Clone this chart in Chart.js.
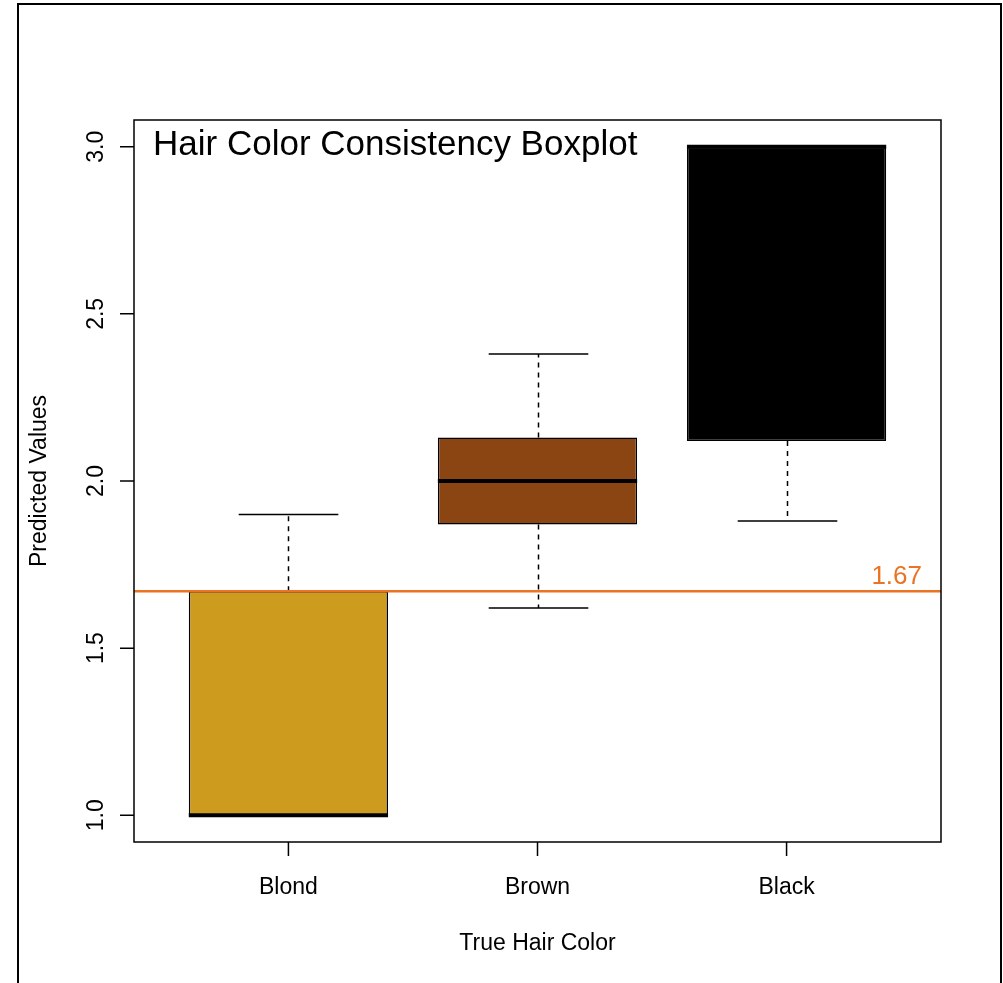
<!DOCTYPE html>
<html>
<head>
<meta charset="utf-8">
<script src="https://cdn.jsdelivr.net/npm/chart.js@4.4.1/dist/chart.umd.min.js"></script>
<style>
  html, body { margin: 0; padding: 0; background: #fff; }
  canvas { display: block; }
</style>
</head>
<body>
<canvas id="chart" width="1003" height="983"></canvas>
<script>
// ---- data ----
const categories = ['Blond', 'Brown', 'Black'];
const positions = [1, 2, 3];
const lowerWhisker = [1.00, 1.62, 1.88];
const q1 = [1.00, 1.87, 2.12];
const median = [1.00, 2.00, 3.00];
const q3 = [1.67, 2.13, 3.00];
const upperWhisker = [1.90, 2.38, 3.00];
const boxColors = ['#CD9B1D', '#8B4513', '#000000'];
const yTicks = [1.0, 1.5, 2.0, 2.5, 3.0];
const referenceValue = 1.67;
const referenceLabel = '1.67';
const referenceColor = '#EB7324';

const chartTitle = 'Hair Color Consistency Boxplot';
const xTitle = 'True Hair Color';
const yTitle = 'Predicted Values';

const FONT = '"Liberation Sans", Arial, Helvetica, sans-serif';

// boxes are floating bars from q1 to q3
const boxData = positions.map((p, i) => ({ x: p, y: [q1[i], q3[i]] }));

// ---- drawing helpers (whiskers, medians, axes, text) ----
const boxplotDecor = {
  id: 'boxplotDecor',
  beforeDraw(chart) {
    const ctx = chart.ctx;
    ctx.save();
    ctx.fillStyle = '#fff';
    ctx.fillRect(0, 0, chart.width, chart.height);
    // outer device frame
    ctx.strokeStyle = '#000';
    ctx.lineWidth = 2;
    ctx.strokeRect(18, 4, chart.width - 20, chart.height + 20);
    ctx.restore();
  },
  beforeDatasetsDraw(chart) {
    const ctx = chart.ctx;
    const xs = chart.scales.x, ys = chart.scales.y;
    const capHalf = xs.getPixelForValue(1.2) - xs.getPixelForValue(1);
    ctx.save();
    ctx.strokeStyle = '#000';
    ctx.lineWidth = 1.5;
    positions.forEach((p, i) => {
      const cx = Math.round(xs.getPixelForValue(p)) + 0.5;
      // dashed whiskers
      ctx.setLineDash([5, 5]);
      ctx.beginPath();
      ctx.moveTo(cx, ys.getPixelForValue(q3[i]));
      ctx.lineTo(cx, ys.getPixelForValue(upperWhisker[i]));
      ctx.moveTo(cx, ys.getPixelForValue(q1[i]));
      ctx.lineTo(cx, ys.getPixelForValue(lowerWhisker[i]));
      ctx.stroke();
      // staples
      ctx.setLineDash([]);
      ctx.beginPath();
      [upperWhisker[i], lowerWhisker[i]].forEach(v => {
        const y = ys.getPixelForValue(v);
        ctx.moveTo(cx - capHalf, y);
        ctx.lineTo(cx + capHalf, y);
      });
      ctx.stroke();
    });
    ctx.restore();
  },
  afterDatasetsDraw(chart) {
    const ctx = chart.ctx;
    const area = chart.chartArea;
    const xs = chart.scales.x, ys = chart.scales.y;
    const boxHalf = (xs.getPixelForValue(1.4) - xs.getPixelForValue(1));
    ctx.save();

    // medians
    ctx.strokeStyle = '#000';
    ctx.lineWidth = 4;
    positions.forEach((p, i) => {
      const cx = xs.getPixelForValue(p);
      const y = ys.getPixelForValue(median[i]);
      ctx.beginPath();
      ctx.moveTo(cx - boxHalf, y);
      ctx.lineTo(cx + boxHalf, y);
      ctx.stroke();
    });

    // reference line
    const ry = ys.getPixelForValue(referenceValue);
    ctx.strokeStyle = referenceColor;
    ctx.lineWidth = 2.5;
    ctx.beginPath();
    ctx.moveTo(area.left, ry);
    ctx.lineTo(area.right, ry);
    ctx.stroke();
    ctx.fillStyle = referenceColor;
    ctx.font = '26px ' + FONT;
    ctx.textAlign = 'right';
    ctx.textBaseline = 'alphabetic';
    ctx.fillText(referenceLabel, area.right - 19, ry - 7);

    // plot frame
    ctx.strokeStyle = '#000';
    ctx.lineWidth = 1.5;
    ctx.strokeRect(area.left, area.top, area.right - area.left, area.bottom - area.top);

    // y axis ticks and labels
    ctx.fillStyle = '#000';
    ctx.font = '23px ' + FONT;
    ctx.beginPath();
    yTicks.forEach(v => {
      const y = ys.getPixelForValue(v);
      ctx.moveTo(area.left, y);
      ctx.lineTo(area.left - 14, y);
    });
    ctx.stroke();
    ctx.textAlign = 'center';
    yTicks.forEach(v => {
      const y = ys.getPixelForValue(v);
      ctx.save();
      ctx.translate(area.left - 31, y);
      ctx.rotate(-Math.PI / 2);
      ctx.fillText(v.toFixed(1), 0, 0);
      ctx.restore();
    });

    // x axis ticks and labels
    ctx.beginPath();
    positions.forEach(p => {
      const x = xs.getPixelForValue(p);
      ctx.moveTo(x, area.bottom);
      ctx.lineTo(x, area.bottom + 14);
    });
    ctx.stroke();
    positions.forEach((p, i) => {
      ctx.fillText(categories[i], xs.getPixelForValue(p), area.bottom + 52);
    });

    // axis titles
    ctx.fillText(xTitle, (area.left + area.right) / 2, area.bottom + 108);
    ctx.save();
    ctx.translate(area.left - 88, (area.top + area.bottom) / 2);
    ctx.rotate(-Math.PI / 2);
    ctx.fillText(yTitle, 0, 0);
    ctx.restore();

    // title inside the plot
    ctx.font = '35px ' + FONT;
    ctx.textAlign = 'left';
    ctx.fillText(chartTitle, area.left + 19, area.top + 35);

    ctx.restore();
  }
};

const ctx = document.getElementById('chart').getContext('2d');
const chart = new Chart(ctx, {
  type: 'bar',
  data: {
    datasets: [{
      label: 'IQR',
      data: boxData,
      backgroundColor: boxColors,
      borderColor: '#000',
      borderWidth: 1.5,
      borderSkipped: false,
      barPercentage: 0.8,
      categoryPercentage: 1.0
    }]
  },
  options: {
    responsive: false,
    animation: false,
    layout: { padding: { left: 134, top: 120, right: 62, bottom: 141 } },
    plugins: {
      legend: { display: false },
      tooltip: { enabled: false },
      title: { display: false }
    },
    scales: {
      x: {
        type: 'linear',
        min: 0.38,
        max: 3.62,
        offset: false,
        grid: { offset: false },
        display: false,
        afterBuildTicks: (scale) => { scale.ticks = positions.map(v => ({ value: v })); }
      },
      y: {
        type: 'linear',
        min: 0.92,
        max: 3.08,
        display: false
      }
    }
  },
  plugins: [boxplotDecor]
});
</script>
</body>
</html>
